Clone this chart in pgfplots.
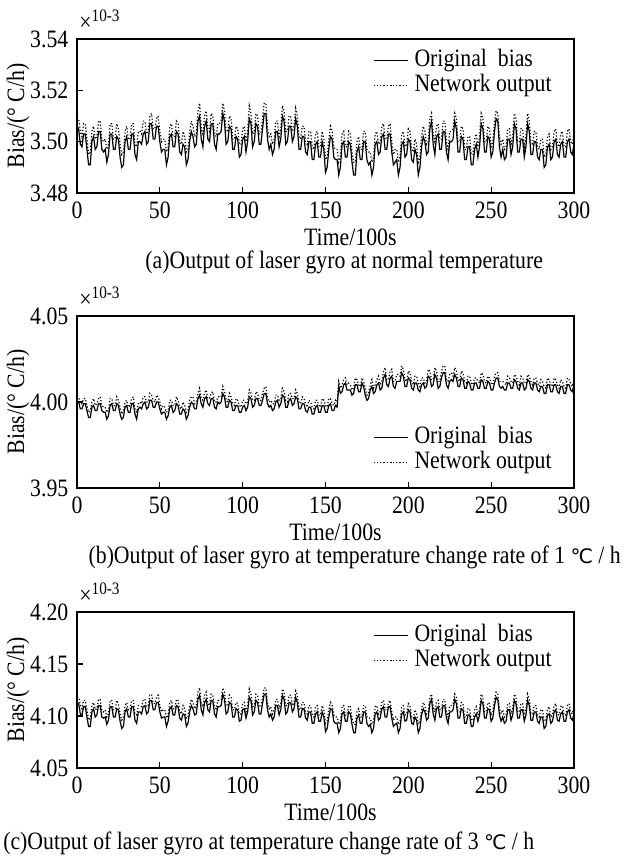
\documentclass[border=0pt]{standalone}
\usepackage{fontspec}
\setmainfont{Liberation Serif}[FakeStretch=0.87]
\newfontfamily\dejavu{DejaVu Sans}
\usepackage{pgfplots}
\usepackage{pgfplotstable}
\pgfplotsset{compat=1.18}

% bias in units of 1e-3 deg/h, time in 100 s
\pgfplotstableread{
x orig net
0 3.506 3.509
1 3.505 3.509
2 3.499 3.504
3 3.498 3.502
4 3.503 3.507
5 3.503 3.507
6 3.497 3.501
7 3.491 3.495
8 3.491 3.496
9 3.500 3.504
10 3.502 3.506
11 3.497 3.501
12 3.498 3.502
13 3.504 3.508
14 3.504 3.508
15 3.497 3.501
16 3.496 3.500
17 3.497 3.501
18 3.492 3.497
19 3.495 3.499
20 3.503 3.507
21 3.503 3.507
22 3.497 3.501
23 3.497 3.501
24 3.502 3.507
25 3.501 3.505
26 3.494 3.499
27 3.490 3.495
28 3.491 3.496
29 3.500 3.504
30 3.502 3.506
31 3.497 3.501
32 3.497 3.501
33 3.503 3.507
34 3.503 3.507
35 3.495 3.499
36 3.493 3.498
37 3.500 3.504
38 3.500 3.504
39 3.499 3.503
40 3.503 3.508
41 3.504 3.508
42 3.499 3.503
43 3.500 3.504
44 3.507 3.510
45 3.507 3.511
46 3.501 3.505
47 3.501 3.505
48 3.506 3.509
49 3.506 3.510
50 3.500 3.504
51 3.496 3.500
52 3.497 3.501
53 3.497 3.501
54 3.491 3.496
55 3.494 3.498
56 3.502 3.506
57 3.503 3.507
58 3.498 3.502
59 3.498 3.502
60 3.504 3.508
61 3.503 3.507
62 3.496 3.500
63 3.495 3.499
64 3.499 3.504
65 3.498 3.502
66 3.491 3.496
67 3.493 3.497
68 3.500 3.504
69 3.504 3.508
70 3.502 3.506
71 3.498 3.502
72 3.499 3.503
73 3.508 3.512
74 3.510 3.515
75 3.501 3.505
76 3.498 3.503
77 3.506 3.510
78 3.508 3.512
79 3.501 3.505
80 3.500 3.504
81 3.507 3.511
82 3.507 3.510
83 3.499 3.503
84 3.497 3.502
85 3.503 3.507
86 3.503 3.507
87 3.504 3.508
88 3.511 3.515
89 3.508 3.512
90 3.499 3.504
91 3.500 3.504
92 3.506 3.510
93 3.505 3.509
94 3.497 3.501
95 3.497 3.501
96 3.502 3.506
97 3.501 3.505
98 3.494 3.499
99 3.495 3.499
100 3.501 3.505
101 3.502 3.506
102 3.496 3.500
103 3.500 3.504
104 3.509 3.514
105 3.507 3.511
106 3.498 3.503
107 3.500 3.504
108 3.507 3.511
109 3.506 3.510
110 3.499 3.503
111 3.499 3.503
112 3.505 3.509
113 3.511 3.515
114 3.511 3.515
115 3.501 3.505
116 3.497 3.502
117 3.499 3.503
118 3.495 3.499
119 3.497 3.501
120 3.504 3.508
121 3.504 3.508
122 3.498 3.502
123 3.501 3.505
124 3.510 3.514
125 3.508 3.512
126 3.499 3.504
127 3.500 3.504
128 3.506 3.510
129 3.506 3.510
130 3.500 3.504
131 3.502 3.506
132 3.509 3.513
133 3.506 3.510
134 3.497 3.502
135 3.497 3.501
136 3.502 3.506
137 3.502 3.506
138 3.496 3.500
139 3.495 3.499
140 3.500 3.504
141 3.500 3.504
142 3.493 3.498
143 3.493 3.497
144 3.499 3.503
145 3.500 3.504
146 3.494 3.498
147 3.494 3.498
148 3.500 3.504
149 3.497 3.501
150 3.488 3.493
151 3.490 3.494
152 3.497 3.501
153 3.502 3.506
154 3.501 3.504
155 3.494 3.498
156 3.493 3.497
157 3.493 3.497
158 3.487 3.492
159 3.490 3.494
160 3.499 3.503
161 3.500 3.504
162 3.494 3.498
163 3.494 3.498
164 3.500 3.504
165 3.499 3.503
166 3.492 3.496
167 3.487 3.492
168 3.487 3.492
169 3.496 3.500
170 3.498 3.502
171 3.493 3.497
172 3.493 3.497
173 3.500 3.504
174 3.500 3.504
175 3.493 3.497
176 3.491 3.496
177 3.492 3.496
178 3.487 3.492
179 3.490 3.494
180 3.499 3.503
181 3.500 3.504
182 3.495 3.499
183 3.496 3.500
184 3.502 3.506
185 3.503 3.507
186 3.497 3.501
187 3.497 3.501
188 3.503 3.506
189 3.503 3.507
190 3.496 3.500
191 3.491 3.495
192 3.492 3.497
193 3.493 3.497
194 3.487 3.492
195 3.490 3.494
196 3.499 3.503
197 3.500 3.504
198 3.494 3.498
199 3.495 3.499
200 3.501 3.505
201 3.500 3.504
202 3.493 3.497
203 3.492 3.496
204 3.497 3.501
205 3.495 3.499
206 3.487 3.492
207 3.490 3.494
208 3.498 3.502
209 3.502 3.506
210 3.500 3.504
211 3.495 3.499
212 3.496 3.500
213 3.505 3.509
214 3.508 3.511
215 3.499 3.503
216 3.495 3.500
217 3.502 3.506
218 3.503 3.507
219 3.497 3.501
220 3.497 3.501
221 3.504 3.508
222 3.504 3.508
223 3.496 3.500
224 3.493 3.497
225 3.500 3.504
226 3.500 3.504
227 3.501 3.505
228 3.508 3.511
229 3.505 3.509
230 3.496 3.500
231 3.496 3.500
232 3.502 3.506
233 3.501 3.505
234 3.493 3.497
235 3.493 3.497
236 3.498 3.502
237 3.498 3.502
238 3.491 3.495
239 3.491 3.495
240 3.497 3.501
241 3.499 3.503
242 3.494 3.498
243 3.498 3.502
244 3.507 3.511
245 3.505 3.509
246 3.496 3.500
247 3.496 3.500
248 3.502 3.506
249 3.501 3.505
250 3.494 3.498
251 3.496 3.500
252 3.504 3.508
253 3.509 3.512
254 3.508 3.511
255 3.498 3.502
256 3.494 3.499
257 3.497 3.501
258 3.493 3.497
259 3.494 3.498
260 3.501 3.505
261 3.501 3.505
262 3.495 3.499
263 3.498 3.502
264 3.507 3.511
265 3.505 3.509
266 3.496 3.500
267 3.496 3.500
268 3.501 3.505
269 3.501 3.505
270 3.494 3.498
271 3.498 3.502
272 3.507 3.511
273 3.504 3.508
274 3.495 3.499
275 3.495 3.499
276 3.500 3.504
277 3.500 3.504
278 3.494 3.498
279 3.493 3.497
280 3.497 3.501
281 3.497 3.501
282 3.490 3.494
283 3.491 3.495
284 3.498 3.502
285 3.499 3.503
286 3.493 3.497
287 3.494 3.498
288 3.500 3.504
289 3.501 3.505
290 3.495 3.499
291 3.494 3.498
292 3.499 3.503
293 3.500 3.504
294 3.494 3.498
295 3.494 3.498
296 3.500 3.504
297 3.501 3.505
298 3.496 3.500
299 3.495 3.499
300 3.499 3.503
}\dataA

\pgfplotstableread{
x orig net
0 4.000 4.003
1 4.000 4.003
2 3.996 3.999
3 3.996 3.999
4 3.999 4.002
5 3.999 4.002
6 3.995 3.998
7 3.991 3.994
8 3.991 3.995
9 3.997 4.000
10 3.998 4.002
11 3.995 3.998
12 3.995 3.999
13 3.999 4.002
14 3.999 4.003
15 3.995 3.998
16 3.994 3.997
17 3.994 3.997
18 3.990 3.994
19 3.992 3.995
20 3.998 4.002
21 3.999 4.002
22 3.995 3.998
23 3.995 3.998
24 3.999 4.003
25 3.998 4.001
26 3.993 3.997
27 3.990 3.993
28 3.991 3.995
29 3.997 4.000
30 3.998 4.001
31 3.994 3.997
32 3.994 3.998
33 3.999 4.002
34 3.999 4.003
35 3.993 3.996
36 3.990 3.994
37 3.996 3.999
38 3.997 4.000
39 3.996 3.999
40 3.999 4.003
41 4.000 4.003
42 3.996 4.000
43 3.997 4.000
44 4.001 4.005
45 4.001 4.004
46 3.997 4.001
47 3.997 4.000
48 4.000 4.004
49 4.000 4.003
50 3.996 4.000
51 3.993 3.996
52 3.994 3.998
53 3.994 3.997
54 3.990 3.994
55 3.992 3.995
56 3.997 4.001
57 3.998 4.001
58 3.994 3.998
59 3.995 3.998
60 3.999 4.003
61 3.998 4.001
62 3.993 3.997
63 3.993 3.996
64 3.996 4.000
65 3.995 3.998
66 3.990 3.994
67 3.992 3.995
68 3.997 4.001
69 4.000 4.003
70 3.999 4.003
71 3.996 3.999
72 3.996 4.000
73 4.002 4.005
74 4.004 4.008
75 3.999 4.002
76 3.997 4.001
77 4.002 4.005
78 4.003 4.007
79 3.999 4.002
80 3.998 4.002
81 4.002 4.005
82 4.002 4.006
83 3.997 4.000
84 3.996 4.000
85 4.000 4.003
86 3.999 4.003
87 4.000 4.003
88 4.005 4.009
89 4.003 4.006
90 3.997 4.001
91 3.997 4.000
92 4.001 4.005
93 4.000 4.003
94 3.995 3.999
95 3.995 3.998
96 3.998 4.002
97 3.998 4.001
98 3.994 3.998
99 3.994 3.997
100 3.997 4.001
101 3.998 4.001
102 3.995 3.999
103 3.997 4.000
104 4.003 4.007
105 4.002 4.005
106 3.997 4.001
107 3.998 4.001
108 4.002 4.006
109 4.002 4.005
110 3.998 4.001
111 3.998 4.001
112 4.001 4.005
113 4.005 4.008
114 4.005 4.009
115 3.999 4.002
116 3.997 4.000
117 3.998 4.001
118 3.995 3.999
119 3.996 3.999
120 4.000 4.004
121 4.001 4.004
122 3.997 4.001
123 3.999 4.002
124 4.004 4.008
125 4.003 4.006
126 3.997 4.001
127 3.997 4.000
128 4.001 4.005
129 4.002 4.005
130 3.998 4.002
131 3.999 4.002
132 4.003 4.007
133 4.002 4.005
134 3.996 4.000
135 3.996 3.999
136 3.999 4.003
137 3.999 4.002
138 3.995 3.999
139 3.994 3.997
140 3.997 4.001
141 3.997 4.000
142 3.993 3.997
143 3.993 3.996
144 3.997 4.001
145 3.998 4.001
146 3.994 3.998
147 3.994 3.997
148 3.998 4.002
149 3.998 4.001
150 3.994 3.998
151 3.994 3.997
152 3.998 4.002
153 3.999 4.002
154 3.995 3.999
155 3.995 3.998
156 3.998 4.001
157 3.997 4.000
158 4.009 4.012
159 4.005 4.008
160 4.006 4.010
161 4.010 4.013
162 4.011 4.014
163 4.007 4.010
164 4.007 4.011
165 4.007 4.010
166 4.004 4.007
167 4.005 4.008
168 4.010 4.014
169 4.010 4.013
170 4.006 4.010
171 4.006 4.009
172 4.011 4.014
173 4.009 4.012
174 4.004 4.008
175 4.001 4.004
176 4.002 4.005
177 4.007 4.010
178 4.009 4.013
179 4.005 4.008
180 4.006 4.010
181 4.010 4.013
182 4.011 4.015
183 4.007 4.010
184 4.008 4.012
185 4.014 4.018
186 4.016 4.020
187 4.010 4.013
188 4.009 4.013
189 4.014 4.018
190 4.015 4.019
191 4.009 4.012
192 4.008 4.012
193 4.012 4.016
194 4.012 4.016
195 4.012 4.015
196 4.017 4.021
197 4.015 4.019
198 4.009 4.013
199 4.009 4.012
200 4.014 4.018
201 4.013 4.017
202 4.008 4.012
203 4.007 4.010
204 4.011 4.015
205 4.011 4.015
206 4.007 4.011
207 4.006 4.009
208 4.010 4.014
209 4.011 4.014
210 4.008 4.011
211 4.009 4.012
212 4.015 4.019
213 4.014 4.018
214 4.009 4.013
215 4.010 4.013
216 4.016 4.020
217 4.014 4.018
218 4.008 4.012
219 4.009 4.012
220 4.014 4.018
221 4.017 4.021
222 4.017 4.021
223 4.010 4.013
224 4.008 4.012
225 4.012 4.016
226 4.013 4.017
227 4.012 4.015
228 4.016 4.020
229 4.014 4.018
230 4.009 4.013
231 4.009 4.012
232 4.014 4.018
233 4.013 4.017
234 4.008 4.012
235 4.008 4.011
236 4.012 4.015
237 4.011 4.015
238 4.007 4.011
239 4.007 4.010
240 4.011 4.014
241 4.011 4.014
242 4.008 4.012
243 4.008 4.011
244 4.013 4.017
245 4.012 4.016
246 4.008 4.012
247 4.008 4.011
248 4.012 4.015
249 4.011 4.014
250 4.007 4.011
251 4.007 4.010
252 4.011 4.015
253 4.014 4.017
254 4.014 4.017
255 4.009 4.012
256 4.008 4.012
257 4.009 4.012
258 4.007 4.011
259 4.007 4.010
260 4.011 4.015
261 4.011 4.014
262 4.008 4.012
263 4.008 4.011
264 4.013 4.016
265 4.012 4.015
266 4.008 4.012
267 4.007 4.010
268 4.011 4.015
269 4.011 4.014
270 4.007 4.011
271 4.008 4.011
272 4.013 4.016
273 4.012 4.015
274 4.008 4.012
275 4.007 4.010
276 4.011 4.014
277 4.011 4.014
278 4.007 4.011
279 4.006 4.009
280 4.009 4.013
281 4.009 4.012
282 4.005 4.009
283 4.005 4.008
284 4.010 4.014
285 4.010 4.013
286 4.006 4.010
287 4.006 4.009
288 4.010 4.014
289 4.010 4.013
290 4.006 4.010
291 4.005 4.008
292 4.009 4.013
293 4.009 4.012
294 4.005 4.009
295 4.005 4.008
296 4.010 4.014
297 4.010 4.013
298 4.007 4.011
299 4.006 4.009
300 4.010 4.013
}\dataB

\pgfplotstableread{
x orig net
0 4.113 4.118
1 4.112 4.118
2 4.102 4.110
3 4.101 4.107
4 4.109 4.115
5 4.109 4.115
6 4.099 4.106
7 4.090 4.096
8 4.090 4.098
9 4.104 4.110
10 4.107 4.113
11 4.099 4.106
12 4.101 4.107
13 4.110 4.116
14 4.110 4.116
15 4.099 4.106
16 4.098 4.104
17 4.099 4.106
18 4.092 4.099
19 4.096 4.102
20 4.109 4.115
21 4.109 4.115
22 4.099 4.106
23 4.099 4.106
24 4.107 4.115
25 4.106 4.112
26 4.095 4.102
27 4.088 4.096
28 4.090 4.098
29 4.104 4.110
30 4.107 4.113
31 4.099 4.106
32 4.099 4.106
33 4.109 4.115
34 4.109 4.115
35 4.096 4.102
36 4.093 4.101
37 4.104 4.110
38 4.104 4.110
39 4.102 4.109
40 4.109 4.116
41 4.110 4.116
42 4.102 4.109
43 4.104 4.110
44 4.115 4.120
45 4.115 4.121
46 4.106 4.112
47 4.106 4.112
48 4.113 4.118
49 4.113 4.120
50 4.104 4.110
51 4.098 4.104
52 4.099 4.106
53 4.099 4.106
54 4.090 4.098
55 4.095 4.101
56 4.107 4.113
57 4.109 4.115
58 4.101 4.107
59 4.101 4.107
60 4.110 4.116
61 4.109 4.115
62 4.098 4.104
63 4.096 4.102
64 4.102 4.110
65 4.101 4.107
66 4.090 4.098
67 4.093 4.099
68 4.104 4.110
69 4.110 4.116
70 4.107 4.113
71 4.101 4.107
72 4.102 4.109
73 4.116 4.123
74 4.120 4.127
75 4.106 4.112
76 4.101 4.109
77 4.113 4.120
78 4.116 4.123
79 4.106 4.112
80 4.104 4.110
81 4.115 4.121
82 4.115 4.120
83 4.102 4.109
84 4.099 4.107
85 4.109 4.115
86 4.109 4.115
87 4.110 4.116
88 4.121 4.127
89 4.116 4.123
90 4.102 4.110
91 4.104 4.110
92 4.113 4.120
93 4.112 4.118
94 4.099 4.106
95 4.099 4.106
96 4.107 4.113
97 4.106 4.112
98 4.095 4.102
99 4.096 4.102
100 4.106 4.112
101 4.107 4.113
102 4.098 4.104
103 4.104 4.110
104 4.118 4.126
105 4.115 4.121
106 4.101 4.109
107 4.104 4.110
108 4.115 4.121
109 4.113 4.120
110 4.102 4.109
111 4.102 4.109
112 4.112 4.118
113 4.121 4.127
114 4.121 4.127
115 4.106 4.112
116 4.099 4.107
117 4.102 4.109
118 4.096 4.102
119 4.099 4.106
120 4.110 4.116
121 4.110 4.116
122 4.101 4.107
123 4.106 4.112
124 4.120 4.126
125 4.116 4.123
126 4.102 4.110
127 4.104 4.110
128 4.113 4.120
129 4.113 4.120
130 4.104 4.110
131 4.107 4.113
132 4.118 4.124
133 4.113 4.120
134 4.099 4.107
135 4.099 4.106
136 4.107 4.113
137 4.107 4.113
138 4.098 4.104
139 4.096 4.102
140 4.104 4.110
141 4.104 4.110
142 4.093 4.101
143 4.093 4.099
144 4.102 4.109
145 4.104 4.110
146 4.095 4.101
147 4.095 4.101
148 4.104 4.110
149 4.099 4.106
150 4.085 4.093
151 4.088 4.095
152 4.099 4.106
153 4.107 4.113
154 4.106 4.110
155 4.095 4.101
156 4.093 4.099
157 4.093 4.099
158 4.084 4.092
159 4.088 4.095
160 4.102 4.109
161 4.104 4.110
162 4.095 4.101
163 4.095 4.101
164 4.104 4.110
165 4.102 4.109
166 4.092 4.098
167 4.084 4.092
168 4.084 4.092
169 4.098 4.104
170 4.101 4.107
171 4.093 4.099
172 4.093 4.099
173 4.104 4.110
174 4.104 4.110
175 4.093 4.099
176 4.090 4.098
177 4.092 4.098
178 4.084 4.092
179 4.088 4.095
180 4.102 4.109
181 4.104 4.110
182 4.096 4.102
183 4.098 4.104
184 4.107 4.113
185 4.109 4.115
186 4.099 4.106
187 4.099 4.106
188 4.109 4.113
189 4.109 4.115
190 4.098 4.104
191 4.090 4.096
192 4.092 4.099
193 4.093 4.099
194 4.084 4.092
195 4.088 4.095
196 4.102 4.109
197 4.104 4.110
198 4.095 4.101
199 4.096 4.102
200 4.106 4.112
201 4.104 4.110
202 4.093 4.099
203 4.092 4.098
204 4.099 4.106
205 4.096 4.102
206 4.084 4.092
207 4.088 4.095
208 4.101 4.107
209 4.107 4.113
210 4.104 4.110
211 4.096 4.102
212 4.098 4.104
213 4.112 4.118
214 4.116 4.121
215 4.102 4.109
216 4.096 4.104
217 4.107 4.113
218 4.109 4.115
219 4.099 4.106
220 4.099 4.106
221 4.110 4.116
222 4.110 4.116
223 4.098 4.104
224 4.093 4.099
225 4.104 4.110
226 4.104 4.110
227 4.106 4.112
228 4.116 4.121
229 4.112 4.118
230 4.098 4.104
231 4.098 4.104
232 4.107 4.113
233 4.106 4.112
234 4.093 4.099
235 4.093 4.099
236 4.101 4.107
237 4.101 4.107
238 4.090 4.096
239 4.090 4.096
240 4.099 4.106
241 4.102 4.109
242 4.095 4.101
243 4.101 4.107
244 4.115 4.121
245 4.112 4.118
246 4.098 4.104
247 4.098 4.104
248 4.107 4.113
249 4.106 4.112
250 4.095 4.101
251 4.098 4.104
252 4.110 4.116
253 4.118 4.123
254 4.116 4.121
255 4.101 4.107
256 4.095 4.102
257 4.099 4.106
258 4.093 4.099
259 4.095 4.101
260 4.106 4.112
261 4.106 4.112
262 4.096 4.102
263 4.101 4.107
264 4.115 4.121
265 4.112 4.118
266 4.098 4.104
267 4.098 4.104
268 4.106 4.112
269 4.106 4.112
270 4.095 4.101
271 4.101 4.107
272 4.115 4.121
273 4.110 4.116
274 4.096 4.102
275 4.096 4.102
276 4.104 4.110
277 4.104 4.110
278 4.095 4.101
279 4.093 4.099
280 4.099 4.106
281 4.099 4.106
282 4.088 4.095
283 4.090 4.096
284 4.101 4.107
285 4.102 4.109
286 4.093 4.099
287 4.095 4.101
288 4.104 4.110
289 4.106 4.112
290 4.096 4.102
291 4.095 4.101
292 4.102 4.109
293 4.104 4.110
294 4.095 4.101
295 4.095 4.101
296 4.104 4.110
297 4.106 4.112
298 4.098 4.104
299 4.096 4.102
300 4.102 4.109
}\dataC

\pgfplotsset{
  gyro/.style={
    scale only axis, width=248.5pt, anchor=north west,
    xmin=0, xmax=300, xtick={0,50,...,300},
    tick align=inside, xtick pos=left, ytick pos=left,
    major tick length=3pt,
    axis line style={line width=0.7pt},
    every tick/.style={black, line width=0.6pt},
    scaled ticks=false,
    /pgf/number format/assume math mode=true,
    yticklabel style={/pgf/number format/.cd, fixed, fixed zerofill, precision=2},
    xlabel={Time/100s},
    ylabel={Bias/(° C/h)},
    ylabel style={at={([xshift=-29.5pt]rel axis cs:0,0.5)}, anchor=center},
    legend cell align=left,
    legend style={draw=none, fill=none, row sep=1.5pt,
      nodes={inner xsep=3pt, inner ysep=0pt, text height=8.5pt, text depth=2.5pt}},
    clip=false,
  },
  orig/.style={black, solid, line width=0.6pt},
  net/.style={black, densely dotted, line width=0.6pt},
}

\begin{document}
\fontsize{12.5}{14}\selectfont
\begin{tikzpicture}
\useasboundingbox (0,0) rectangle (312pt,-429pt);

\begin{axis}[gyro, at={(38.5pt,-19.5pt)}, height=77pt,
  ymin=3.48, ymax=3.54, ytick={3.48,3.50,3.52,3.54},
  xlabel style={at={([yshift=-22pt]rel axis cs:0.55,0)}, anchor=center},
  legend style={at={(rel axis cs:0.98,0.96)}, anchor=north east}]
\addplot[orig] table[x=x, y=orig] {\dataA};
\addlegendentry{Original\ \ bias}
\addplot[net] table[x=x, y=net] {\dataA};
\addlegendentry{Network output}
\node[anchor=south west, inner sep=0pt] at ([xshift=1pt,yshift=4pt]rel axis cs:0,1) {×\textsuperscript{10-3}};
\node[anchor=base west, inner sep=0pt] at ([yshift=-37.5pt]rel axis cs:0.137,0) {(a)Output of laser gyro at normal temperature};
\end{axis}

\begin{axis}[gyro, at={(38.5pt,-158pt)}, height=86pt,
  ymin=3.95, ymax=4.05, ytick={3.95,4.00,4.05},
  xlabel style={at={([yshift=-22pt]rel axis cs:0.52,0)}, anchor=center},
  legend style={at={(rel axis cs:0.98,0.06)}, anchor=south east}]
\addplot[orig] table[x=x, y=orig] {\dataB};
\addlegendentry{Original\ \ bias}
\addplot[net] table[x=x, y=net] {\dataB};
\addlegendentry{Network output}
\node[anchor=south west, inner sep=0pt] at ([xshift=1pt,yshift=4pt]rel axis cs:0,1) {×\textsuperscript{10-3}};
\node[anchor=base east, inner sep=0pt] at ([yshift=-37.5pt]rel axis cs:1.095,0) {(b)Output of laser gyro at temperature change rate of 1 {\dejavu\fontsize{10}{10}\selectfont ℃} / h};
\end{axis}

\begin{axis}[gyro, at={(38.5pt,-306pt)}, height=78pt,
  ymin=4.05, ymax=4.20, ytick={4.05,4.10,4.15,4.20},
  xlabel style={at={([yshift=-22pt]rel axis cs:0.51,0)}, anchor=center},
  legend style={at={(rel axis cs:0.98,0.95)}, anchor=north east}]
\addplot[orig] table[x=x, y=orig] {\dataC};
\addlegendentry{Original\ \ bias}
\addplot[net] table[x=x, y=net] {\dataC};
\addlegendentry{Network output}
\node[anchor=south west, inner sep=0pt] at ([xshift=1pt,yshift=4pt]rel axis cs:0,1) {×\textsuperscript{10-3}};
\node[anchor=base west, inner sep=0pt] at ([yshift=-40.5pt]rel axis cs:-0.149,0) {(c)Output of laser gyro at temperature change rate of 3 {\dejavu\fontsize{10}{10}\selectfont ℃} / h};
\end{axis}
\end{tikzpicture}
\end{document}
